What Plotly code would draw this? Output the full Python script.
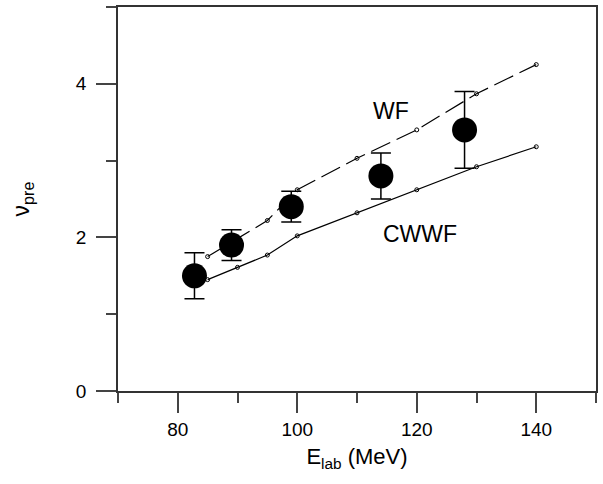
import plotly.graph_objects as go

# Experimental data
exp_E = [82.8, 89, 99, 114, 128]
exp_nu = [1.5, 1.9, 2.4, 2.8, 3.4]
exp_err = [0.3, 0.2, 0.2, 0.3, 0.5]

# WF calculation (dashed)
wf_E = [85, 95, 100, 110, 120, 130, 140]
wf_nu = [1.75, 2.22, 2.62, 3.03, 3.40, 3.87, 4.25]

# CWWF calculation (solid)
cw_E = [85, 90, 95, 100, 110, 120, 130, 140]
cw_nu = [1.45, 1.61, 1.77, 2.02, 2.32, 2.62, 2.92, 3.18]

FONT = "Liberation Sans, Arial, Helvetica, sans-serif"

fig = go.Figure()
fig.add_trace(go.Scatter(
    x=wf_E, y=wf_nu, mode="lines+markers",
    line=dict(color="black", width=1.2, dash="21px,7px"),
    marker=dict(symbol="circle-open", size=4, color="black", line=dict(width=1)),
    showlegend=False))
fig.add_trace(go.Scatter(
    x=cw_E, y=cw_nu, mode="lines+markers",
    line=dict(color="black", width=1.2),
    marker=dict(symbol="circle-open", size=4, color="black", line=dict(width=1)),
    showlegend=False))
fig.add_trace(go.Scatter(
    x=exp_E, y=exp_nu, mode="markers",
    marker=dict(symbol="circle", size=25, color="black"),
    error_y=dict(type="data", array=exp_err, visible=True, color="black",
                 thickness=1.5, width=10),
    showlegend=False))

fig.add_annotation(x=115.7, y=3.64, text="WF", showarrow=False,
                   font=dict(family=FONT, size=23, color="black"))
fig.add_annotation(x=120.5, y=2.04, text="CWWF", showarrow=False,
                   font=dict(family=FONT, size=23, color="black"))

axis_common = dict(
    showline=True, linecolor="#333", linewidth=1.5, mirror=True,
    ticks="outside", ticklen=20, tickwidth=1.5, tickcolor="#444",
    showgrid=False, zeroline=False,
    tickfont=dict(family=FONT, size=19, color="black"),
)

fig.update_xaxes(range=[70, 150], tick0=80, dtick=20,
                 minor=dict(ticks="outside", ticklen=10, tickwidth=1.5, tickcolor="#444",
                            tick0=70, dtick=10, showgrid=False),
                 title=dict(text="E<sub>lab</sub> (MeV)", font=dict(family=FONT, size=22, color="black"),
                            standoff=10),
                 **axis_common)
fig.update_yaxes(range=[0, 5], tick0=0, dtick=2,
                 minor=dict(ticks="outside", ticklen=10, tickwidth=1.5, tickcolor="#444",
                            tick0=0, dtick=1, showgrid=False),
                 ticklabelstandoff=6,
                 title=dict(text="ν<sub>pre</sub>", font=dict(family=FONT, size=23, color="black"),
                            standoff=40),
                 **axis_common)

fig.update_layout(
    width=603, height=484,
    margin=dict(l=118, r=5, t=6, b=93),
    plot_bgcolor="white", paper_bgcolor="white",
    font=dict(family=FONT, color="black"),
)

fig.write_html("out.html")
